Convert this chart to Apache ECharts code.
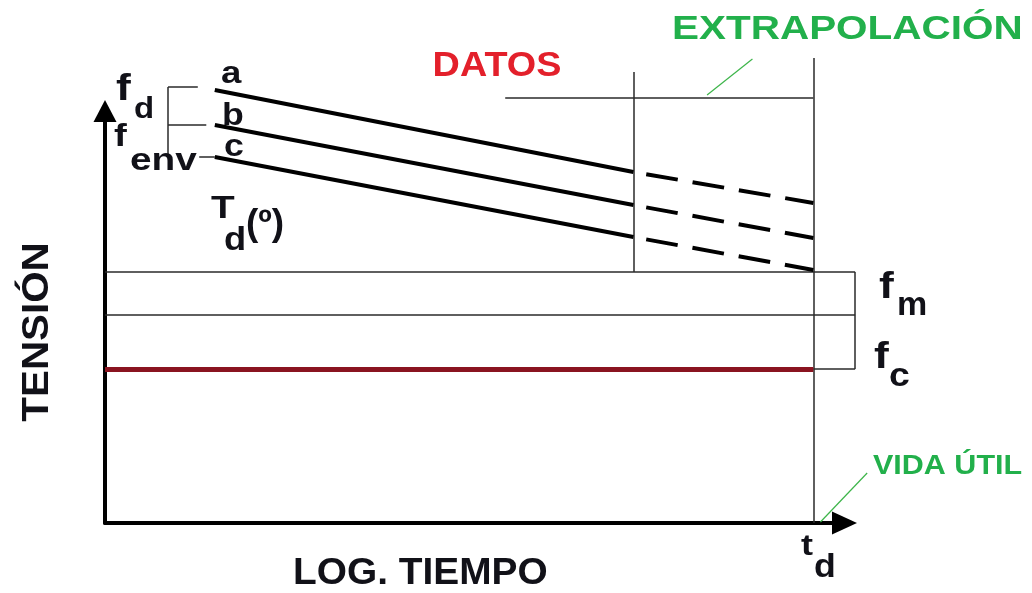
<!DOCTYPE html>
<html>
<head>
<meta charset="utf-8">
<script src="https://cdn.jsdelivr.net/npm/echarts@6/dist/echarts.min.js"></script>
<style>
  html, body { margin: 0; padding: 0; background: #ffffff; }
  #chart { width: 1032px; height: 593px; }
</style>
</head>
<body>
<div id="chart"></div>
<script>
// ---- Positions on the log-time axis (axis units) ----
const T_START = 15.5;      // first data point of the curves
const T_DATA_END = 74.6;   // end of the measured data
const T_LIFE = 100;        // service life t_d
const T_BOX_END = 105.9;   // right edge of the f_m / f_c band
const T_BRACKET = 8.9;     // bracket joining f_d and f_env
const T_HEADER_START = 56.5;

// ---- Stress curves a, b, c ----
const curveNames = ['a', 'b', 'c'];
const curveStart = [86.6, 79.6, 73.2];    // stress at T_START
const curveDataEnd = [70.2, 63.6, 57.2];  // stress at the end of the data
const curveLife = [64.0, 57.0, 50.6];     // extrapolated stress at t_d

// ---- Stress levels ----
const fmLevel = 50.2;       // f_m
const bandMid = 41.6;
const fcLevel = 30.8;       // f_c
const headerLevel = 85;     // line under DATOS / EXTRAPOLACIÓN
const dataEndTop = 90.2;
const lifeTop = 93;
const bracketLevels = [87.2, 79.6, 73.2];
const bracketEnds = [13.1, 14.3, 15.5];
const bracketTickStart = 13.3;

// ---- Leader lines for the green notes ----
const extrapLeader = [[85.0, 85.6], [91.4, 92.8]];
const lifeLeader = [[101.0, 0.2], [107.6, 10.0]];

const INK = '#111118';
const FONT = '"Liberation Sans", Arial, sans-serif';

// Straight segments drawn through the cartesian grid
function segments(list, lineStyle, z) {
  return {
    type: 'lines', coordinateSystem: 'cartesian2d', polyline: false,
    clip: false, silent: true, animation: false, z: z || 2,
    lineStyle: Object.assign({ opacity: 1, curveness: 0 }, lineStyle),
    data: list.map(function (c) { return { coords: c }; })
  };
}

const solidCurves = curveNames.map(function (n, i) {
  return [[T_START, curveStart[i]], [T_DATA_END, curveDataEnd[i]]];
});
const dashedCurves = curveNames.map(function (n, i) {
  return [[T_DATA_END, curveDataEnd[i]], [T_LIFE, curveLife[i]]];
});

const frame = [
  // f_m / f_c band
  [[0, fmLevel], [T_BOX_END, fmLevel]],
  [[0, bandMid], [T_BOX_END, bandMid]],
  [[T_BOX_END, fmLevel], [T_BOX_END, fcLevel]],
  [[T_LIFE, fcLevel], [T_BOX_END, fcLevel]],
  // data / extrapolation frame
  [[T_DATA_END, dataEndTop], [T_DATA_END, fmLevel]],
  [[T_LIFE, lifeTop], [T_LIFE, 0]],
  [[T_HEADER_START, headerLevel], [T_LIFE, headerLevel]],
  // bracket f_d / f_env
  [[T_BRACKET, bracketLevels[0]], [T_BRACKET, bracketLevels[2]]],
  [[T_BRACKET, bracketLevels[0]], [bracketEnds[0], bracketLevels[0]]],
  [[T_BRACKET, bracketLevels[1]], [bracketEnds[1], bracketLevels[1]]],
  [[bracketTickStart, bracketLevels[2]], [bracketEnds[2], bracketLevels[2]]]
];

const series = [
  segments(frame, { color: '#2a2a2a', width: 1.5 }),
  segments([[[0, fcLevel], [T_LIFE, fcLevel]]], { color: '#8a1420', width: 5 }, 3),
  segments(solidCurves, { color: '#000', width: 4 }, 4),
  segments(dashedCurves, { color: '#000', width: 4, type: [32, 15], dashOffset: 34 }, 4),
  segments([extrapLeader, lifeLeader], { color: '#3db54a', width: 1.2 }, 4)
];

function txt(text, x, y, size, opts) {
  opts = opts || {};
  return {
    type: 'text', x: x, y: y, silent: true, z: 10,
    scaleX: opts.sx || 1, scaleY: opts.sy || 1,
    rotation: opts.rot || 0,
    style: {
      text: text, fill: opts.color || INK,
      fontSize: size, fontWeight: 'bold', fontFamily: FONT,
      align: opts.align || 'left', verticalAlign: 'middle'
    }
  };
}

const texts = [
  txt('DATOS', 497, 66, 35, { color: '#e3202b', align: 'center', sx: 1.08 }),
  txt('EXTRAPOLACIÓN', 672, 30, 34, { color: '#22b04b', sx: 1.19 }),
  txt('VIDA ÚTIL', 873, 467, 27, { color: '#22b04b', sx: 1.13 }),
  txt('LOG. TIEMPO', 293, 574, 37, { sx: 1.05 }),
  txt('TENSIÓN', 38, 332, 37, { align: 'center', rot: Math.PI / 2, sx: 1.09 }),
  // f_d
  txt('f', 116, 90, 37, { sx: 1.2 }),
  txt('d', 134, 110, 30, { sx: 1.1 }),
  // f_env
  txt('f', 114, 137, 32, { sx: 1.2 }),
  txt('env', 130, 161, 31, { sx: 1.25 }),
  // curve letters
  txt(curveNames[0], 221, 74, 31, { sx: 1.18 }),
  txt(curveNames[1], 222, 116, 31, { sx: 1.15 }),
  txt(curveNames[2], 224, 147, 31, { sx: 1.15 }),
  // T_d(º)
  txt('T', 211, 209, 31, { sx: 1.25 }),
  txt('d', 224, 241, 33, { sx: 1.1 }),
  txt('(º)', 246, 225, 37),
  // f_m, f_c
  txt('f', 879, 288, 37, { sx: 1.2 }),
  txt('m', 897, 306, 34),
  txt('f', 874, 358, 37, { sx: 1.2 }),
  txt('c', 889, 377, 34, { sx: 1.1 }),
  // t_d
  txt('t', 801, 547, 30, { sx: 1.2 }),
  txt('d', 814, 568, 34, { sx: 1.05 })
];

const axisCommon = {
  type: 'value', min: 0,
  axisTick: { show: false }, axisLabel: { show: false }, splitLine: { show: false }
};

const chart = echarts.init(document.getElementById('chart'), null, { renderer: 'canvas' });
chart.setOption({
  backgroundColor: '#ffffff',
  animation: false,
  grid: { left: 105, top: 111, right: 187.5, bottom: 70 },
  xAxis: Object.assign({}, axisCommon, {
    max: 104.4,
    axisLine: { show: true, onZero: false, symbol: ['none', 'triangle'], symbolSize: [23, 25],
      lineStyle: { color: '#000', width: 4 } }
  }),
  yAxis: Object.assign({}, axisCommon, {
    max: 82.4,
    axisLine: { show: true, onZero: false, symbol: ['none', 'triangle'], symbolSize: [23, 22],
      lineStyle: { color: '#000', width: 4 } }
  }),
  series: series,
  graphic: texts
});
</script>
</body>
</html>
